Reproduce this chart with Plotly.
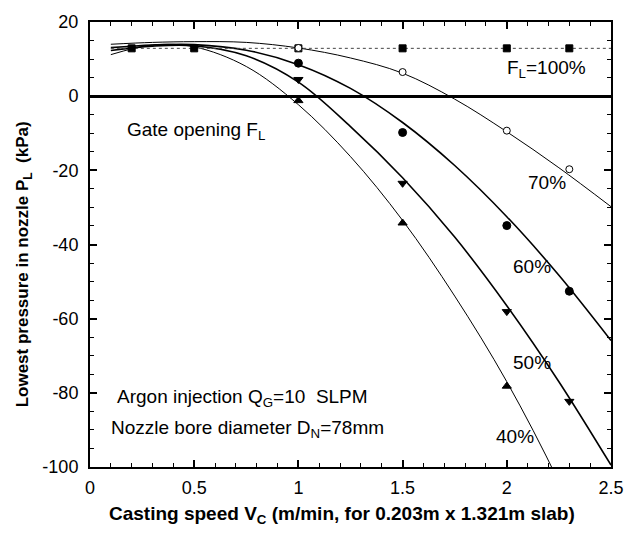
import plotly.graph_objects as go

# ---- measured data points ----
x_sq = [0.2, 0.5, 1.0, 1.5, 2.0, 2.3]
p_100 = [12.9, 12.9, 12.9, 12.9, 12.9, 12.9]

x_pts = [1.0, 1.5, 2.0, 2.3]
p_70 = [13.0, 6.5, -9.3, -19.7]
p_60 = [8.9, -9.8, -34.9, -52.6]
p_50 = [4.5, -23.5, -58.1, -82.3]
x_40 = [1.0, 1.5, 2.0]
p_40 = [-1.2, -34.2, -78.2]

# ---- fitted curves ----
cx = [0.1, 0.3, 0.5, 0.75, 1.0, 1.25, 1.5, 1.75, 2.0, 2.25, 2.5]
c_70 = [14.0, 14.5, 14.7, 14.5, 13.0, 10.3, 6.2, -0.8, -9.6, -19.3, -29.8]
c_60 = [13.1, 13.8, 13.9, 12.4, 8.5, 2.1, -7.1, -18.7, -32.5, -48.3, -65.9]
c_50 = [12.3, 13.5, 13.6, 10.9, 3.8, -8.2, -22.0, -38.0, -56.5, -77.0, -99.5]
c_40 = [11.2, 13.8, 13.3, 8.0, -2.3, -16.3, -33.5, -53.9, -77.0, -104.0, -135.0]
c100_x = [0.1, 2.5]
c100_y = [12.9, 12.9]

y_ticks = [-100, -80, -60, -40, -20, 0, 20]
y_ticktext = ["-100", "-80", "-60", "-40", "-20", "0", "20"]

FONT = "Liberation Sans, Arial, sans-serif"
BLACK = "#000000"

fig = go.Figure()

def curve(x, y, w):
    fig.add_trace(go.Scatter(x=x, y=y, mode="lines", line=dict(color=BLACK, width=w, shape="spline", smoothing=1.0),
                             showlegend=False, hoverinfo="skip"))

curve(cx, c_70, 1.0)
curve(cx, c_60, 1.6)
curve(cx, c_50, 1.6)
curve(cx, c_40, 1.0)
fig.add_trace(go.Scatter(x=c100_x, y=c100_y, mode="lines", line=dict(color="#444", width=1, dash="dot"),
                         showlegend=False))

def pts(x, y, sym, size, fill=BLACK):
    fig.add_trace(go.Scatter(x=x, y=y, mode="markers", showlegend=False,
                             marker=dict(symbol=sym, size=size, color=fill, line=dict(color=BLACK, width=1))))

pts(x_sq, p_100, "square", 7)
pts(x_pts, p_70, "circle", 7, "white")
pts(x_pts, p_60, "circle", 8)
pts(x_pts, p_50, "triangle-down", 8)
pts(x_40, p_40, "triangle-up", 8)

def note(x, y, text, xanchor="center"):
    fig.add_annotation(x=x, y=y, text=text, showarrow=False, xanchor=xanchor, yanchor="middle",
                       font=dict(family=FONT, size=19, color=BLACK))

note(2.19, 7.2, "F<sub>L</sub>=100%")
note(2.195, -23.3, "70%")
note(2.12, -45.8, "60%")
note(2.12, -71.9, "50%")
note(2.04, -91.8, "40%")
note(0.166, -9.4, "Gate opening F<sub>L</sub>", "left")
note(0.119, -81.5, "Argon injection Q<sub>G</sub>=10  SLPM", "left")
note(0.09, -89.8, "Nozzle bore diameter D<sub>N</sub>=78mm", "left")

fig.add_annotation(xref="paper", yref="paper", x=0.484, y=-0.108, yanchor="middle", showarrow=False,
                   text="<b>Casting speed V<sub>C</sub> (m/min, for 0.203m x 1.321m slab)</b>",
                   font=dict(family=FONT, size=19, color=BLACK))
fig.add_annotation(xref="paper", yref="paper", x=-0.127, y=0.455, xanchor="center", yanchor="middle",
                   showarrow=False, textangle=-90,
                   text="<b>Lowest pressure in nozzle P<sub>L</sub>  (kPa)</b>",
                   font=dict(family=FONT, size=17, color=BLACK))

axis_common = dict(showline=True, linecolor=BLACK, linewidth=2, mirror="ticks", ticks="inside",
                   tickcolor=BLACK, tickwidth=1.5, ticklen=7, showgrid=False,
                   tickfont=dict(family=FONT, size=18, color=BLACK))

fig.update_xaxes(range=[0, 2.5], dtick=0.5, tick0=0, zeroline=False,
                 minor=dict(dtick=0.1, ticks="inside", ticklen=4, tickcolor=BLACK, tickwidth=1),
                 ticklabelstandoff=3, **axis_common)
fig.update_yaxes(range=[-100, 20], tickmode="array", tickvals=y_ticks, ticktext=y_ticktext,
                 zeroline=True, zerolinecolor=BLACK, zerolinewidth=2.5,
                 minor=dict(dtick=5, tick0=0, ticks="inside", ticklen=4, tickcolor=BLACK, tickwidth=1),
                 ticklabelstandoff=6, **axis_common)

fig.update_layout(width=636, height=542, margin=dict(l=90, r=17, t=20, b=75),
                  paper_bgcolor="white", plot_bgcolor="white",
                  font=dict(family=FONT, color=BLACK))

fig.write_html("out.html")
